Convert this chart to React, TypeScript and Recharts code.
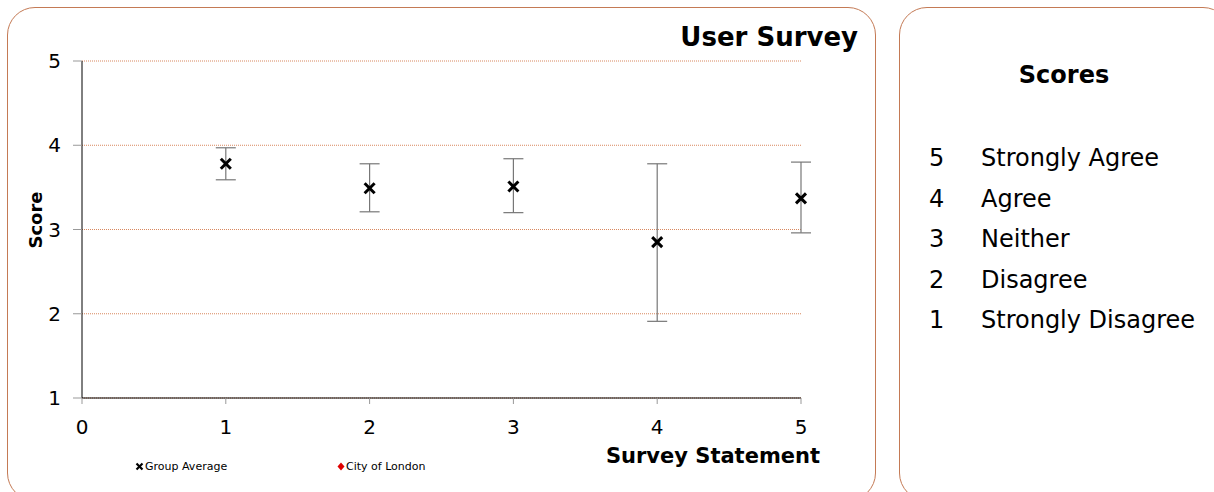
import React from "react";
import { ScatterChart, Scatter, XAxis, YAxis, CartesianGrid, ErrorBar } from "recharts";

// survey statements (x) and mean scores with their low / high range
const statements = [1, 2, 3, 4, 5];
const groupAverage = [3.78, 3.49, 3.51, 2.85, 3.37];
const rangeLow = [3.59, 3.21, 3.2, 1.91, 2.96];
const rangeHigh = [3.97, 3.78, 3.84, 3.78, 3.8];

const xTicks = [0, 1, 2, 3, 4, 5];
const yTicks = [1, 2, 3, 4, 5];

const scoreValues = [5, 4, 3, 2, 1];
const scoreLabels = ["Strongly Agree", "Agree", "Neither", "Disagree", "Strongly Disagree"];

const legendItems = ["Group Average", "City of London"];

const FONT = "'DejaVu Sans', Verdana, sans-serif";
const BORDER = "#c47a55";

const data = statements.map((s, i) => ({
  x: s,
  y: groupAverage[i],
  err: [groupAverage[i] - rangeLow[i], rangeHigh[i] - groupAverage[i]],
}));

const Cross = (props: any) => {
  const { cx, cy } = props;
  const r = 5;
  return (
    <g stroke="#000" strokeWidth={3}>
      <line x1={cx - r} y1={cy - r} x2={cx + r} y2={cy + r} />
      <line x1={cx - r} y1={cy + r} x2={cx + r} y2={cy - r} />
    </g>
  );
};

export default function App() {
  return (
    <div style={{ position: "absolute", left: 0, top: 0, width: 1214, height: 492, overflow: "hidden", fontFamily: FONT, background: "#fff" }}>
      {/* chart panel */}
      <div style={{ position: "absolute", left: 7, top: 7, width: 867, height: 492, border: `1px solid ${BORDER}`, borderRadius: 28 }} />
      {/* scores panel */}
      <div style={{ position: "absolute", left: 899, top: 7, width: 330, height: 492, border: `1px solid ${BORDER}`, borderRadius: 28 }} />

      <div style={{ position: "absolute", left: 0, top: 0 }}>
        <ScatterChart width={875} height={492} margin={{ top: 61, right: 74, bottom: 54, left: 22 }}>
          <CartesianGrid vertical={false} stroke="#d8875e" strokeDasharray="1 1" />
          <XAxis
            type="number"
            dataKey="x"
            domain={[0, 5]}
            ticks={xTicks}
            height={40}
            axisLine={{ stroke: "#000" }}
            tickLine={{ stroke: "#999" }}
            tickSize={6}
            tickMargin={16}
            tick={{ fill: "#000", fontSize: 20, fontFamily: FONT }}
          />
          <YAxis
            type="number"
            dataKey="y"
            domain={[1, 5]}
            ticks={yTicks}
            width={60}
            axisLine={{ stroke: "#000" }}
            tickLine={{ stroke: "#999" }}
            tickSize={9}
            tickMargin={12}
            tick={{ fill: "#000", fontSize: 20, fontFamily: FONT }}
          />
          <Scatter data={data} shape={Cross} isAnimationActive={false}>
            <ErrorBar dataKey="err" direction="y" width={10} stroke="#777" strokeWidth={1.2} />
          </Scatter>
        </ScatterChart>
      </div>

      <div style={{ position: "absolute", right: 1214 - 858, top: 22, fontSize: 26, fontWeight: "bold" }}>User Survey</div>
      <div style={{ position: "absolute", left: 35, top: 220, transform: "translate(-50%, -50%) rotate(-90deg)", fontSize: 18, fontWeight: "bold" }}>Score</div>
      <div style={{ position: "absolute", right: 1214 - 820, top: 444, fontSize: 21, fontWeight: "bold" }}>Survey Statement</div>

      {/* legend */}
      {legendItems.map((name, i) => (
        <div key={name} style={{ position: "absolute", left: i === 0 ? 135 : 337, top: 460, fontSize: 11, display: "flex", alignItems: "center" }}>
          {i === 0 ? (
            <svg width={9} height={9}><g stroke="#000" strokeWidth={2.2}><line x1={1.5} y1={1.5} x2={7.5} y2={7.5} /><line x1={1.5} y1={7.5} x2={7.5} y2={1.5} /></g></svg>
          ) : (
            <svg width={8} height={9}><path d="M4 0.5 L7.5 4.5 L4 8.5 L0.5 4.5 Z" fill="#e00000" /></svg>
          )}
          <span style={{ marginLeft: 1 }}>{name}</span>
        </div>
      ))}

      {/* scores key */}
      <div style={{ position: "absolute", left: 1064, top: 75, transform: "translate(-50%, -50%)", fontSize: 24, fontWeight: "bold" }}>Scores</div>
      {scoreValues.map((v, i) => (
        <div key={v} style={{ position: "absolute", left: 929, top: 158 + i * 40.6, transform: "translateY(-50%)", fontSize: 24, display: "flex", whiteSpace: "nowrap" }}>
          <span style={{ width: 52, display: "inline-block" }}>{v}</span>
          <span>{scoreLabels[i]}</span>
        </div>
      ))}
    </div>
  );
}
